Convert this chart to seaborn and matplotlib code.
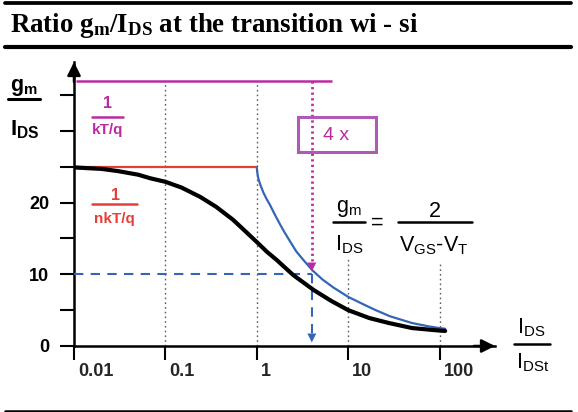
import matplotlib
matplotlib.use("Agg")
import matplotlib.pyplot as plt
import matplotlib.transforms as mtransforms
import seaborn as sns
import pandas as pd
from matplotlib.lines import Line2D
from matplotlib.patches import Rectangle
from matplotlib.ticker import NullLocator

# ---------------- data ----------------
# black: full-range gm/IDS curve (weak -> strong inversion)
full_x = [0.0102, 0.02, 0.03, 0.05, 0.068, 0.1, 0.15, 0.24, 0.36, 0.55, 0.75,
          1.0, 1.3, 1.65, 2.5, 4.2, 6.5, 10, 17, 28, 50, 100, 115]
full_y = [24.9, 24.7, 24.4, 23.9, 23.4, 22.9, 22.1, 20.8, 19.4, 17.6, 16.0,
          14.5, 13.1, 12.0, 9.9, 7.8, 6.3, 5.0, 3.9, 3.2, 2.5, 2.15, 2.1]
# blue: strong-inversion asymptote 2/(VGS-VT)
si_x = [1.0, 1.01, 1.03, 1.06, 1.1, 1.18, 1.28, 1.39, 1.58, 1.79, 2.0, 2.31,
        2.7, 3.23, 4.1, 5.2, 6.9, 10, 15, 20, 28.6, 50, 75, 100, 115]
si_y = [24.9, 24.3, 23.6, 23.0, 22.4, 21.4, 20.5, 19.7, 18.3, 17.0, 15.9, 14.6,
        13.2, 12.0, 10.5, 9.3, 8.15, 6.85, 5.75, 5.0, 4.15, 3.2, 2.75, 2.5, 2.4]
# horizontal limits
kt_level = 37.0            # 1/(kT/q)
kt_span = [0.0105, 6.6]
nkt_level = 25.0           # 1/(nkT/q)
nkt_span = [0.0101, 1.0]
# "4 x" construction
ratio_x = 4.0
ratio_level = 10.0
kt_arrow_tip = 10.4
ratio_arrow_tip = 0.5
# decade guide lines
guide_x = [0.1, 1, 10, 100]
guide_top = [36.7, 36.7, 12.3, 11.6]
# ticks
x_ticks = [0.01, 0.1, 1, 10, 100]
x_tick_labels = ["0.01", "0.1", "1", "10", "100"]
y_ticks = [0, 5, 10, 15, 20, 25, 30, 35]
y_tick_labels = ["0", "", "10", "", "20", "", "", ""]

# ---------------- style ----------------
sns.set_theme(style="ticks")
plt.rcParams["font.family"] = ["Liberation Sans", "DejaVu Sans"]
plt.rcParams["mathtext.default"] = "regular"

MAG = "#bb2aa2"
RED = "#e3403b"
BLUE = "#3565b6"
BOX = "#b05ab8"
GRID = "#5e5e5e"

W, H = 578, 412
fig = plt.figure(figsize=(W / 100, H / 100), dpi=100)
fig.patch.set_facecolor("white")


def fx(x):
    return x / W


def fy(y):
    return 1 - y / H


ax = fig.add_axes([fx(74), fy(346), (495 - 74) / W, (346 - 62) / H])
ax.set_xscale("log")
ax.set_xlim(0.01, 10 ** ((495 - 74) / 91.4 - 2))
ax.set_ylim(0, (346 - 62) / 7.17)
ax.patch.set_alpha(0)

# guides
ax.vlines(guide_x, 0, guide_top, colors=GRID, linestyles=(0, (1.2, 2.2)), lw=1.0, zorder=1)

# limits
ax.hlines(kt_level, kt_span[0], kt_span[1], color=MAG, lw=1.8, zorder=3)
ax.hlines(nkt_level, nkt_span[0], nkt_span[1], color=RED, lw=1.6, zorder=3)

# curves
df_full = pd.DataFrame({"x": full_x, "y": full_y})
df_si = pd.DataFrame({"x": si_x, "y": si_y})
sns.lineplot(data=df_si, x="x", y="y", ax=ax, color=BLUE, lw=1.6, estimator=None, zorder=4)
sns.lineplot(data=df_full, x="x", y="y", ax=ax, color="black", lw=3.0, estimator=None, zorder=5)

# blue dashed construction
ax.plot([0.01, ratio_x], [ratio_level, ratio_level], color=BLUE, lw=1.5,
        ls=(0, (4.5, 3.5)), zorder=3)
ax.plot([ratio_x, ratio_x], [ratio_level, ratio_arrow_tip + 1.2], color=BLUE, lw=1.5,
        ls=(0, (4.5, 3.5)), zorder=3)
ax.annotate("", xy=(ratio_x, ratio_arrow_tip), xytext=(ratio_x, ratio_arrow_tip + 1.5),
            arrowprops=dict(arrowstyle="-|>", color=BLUE, lw=0.01, mutation_scale=16,
                            shrinkA=0, shrinkB=0), zorder=6)

# magenta dotted construction
ax.plot([ratio_x, ratio_x], [kt_level, kt_arrow_tip + 1.0], color=MAG, lw=2.0,
        ls=(0, (0.8, 1.2)), zorder=6)
ax.annotate("", xy=(ratio_x, kt_arrow_tip), xytext=(ratio_x, kt_arrow_tip + 1.4),
            arrowprops=dict(arrowstyle="-|>", color=MAG, lw=0.01, mutation_scale=16,
                            shrinkA=0, shrinkB=0), zorder=7)

# "4 x" box
ax.add_patch(Rectangle((2.8, 27.1), 20.1 - 2.8, 31.9 - 27.1, fill=False, ec=BOX, lw=2.2,
                       zorder=6))
ax.text(5.3, 29.4, "4 x", color=MAG, fontsize=14, ha="left", va="center", zorder=7)

# axes
sns.despine(ax=ax)
for s in ("left", "bottom"):
    ax.spines[s].set_linewidth(1.8)
    ax.spines[s].set_color("black")
ax.set_xticks(x_ticks, labels=[""] * len(x_ticks))
ax.xaxis.set_minor_locator(NullLocator())
ax.set_yticks(y_ticks, labels=y_tick_labels, fontweight="bold", fontsize=13)
ax.tick_params(axis="both", which="major", length=10, width=1.5, color="black",
               direction="out", labelcolor="black")
ax.tick_params(axis="y", pad=8)
ax.set_xlabel("")
ax.set_ylabel("")

# x tick labels: left-aligned just right of each tick (as in the reference)
lab_trans = mtransforms.offset_copy(ax.get_xaxis_transform(), fig=fig, x=4, y=-17,
                                    units="dots")
for xv, lab in zip(x_ticks, x_tick_labels):
    ax.text(xv, 0, lab, transform=lab_trans, ha="left", va="top", fontsize=13,
            fontweight="bold", clip_on=False)

ax.annotate("", xy=(1, 0), xycoords="axes fraction", xytext=(0.95, 0),
            arrowprops=dict(arrowstyle="-|>", color="black", lw=1.8, mutation_scale=20,
                            shrinkA=0, shrinkB=0))
ax.annotate("", xy=(0, 1), xycoords="axes fraction", xytext=(0, 0.93),
            arrowprops=dict(arrowstyle="-|>", color="black", lw=1.8, mutation_scale=20,
                            shrinkA=0, shrinkB=0))


# ---------------- annotations ----------------
def bar(x0, x1, y, color="black", lw=2.0):
    fig.add_artist(Line2D([fx(x0), fx(x1)], [fy(y), fy(y)], color=color, lw=lw))


def txt(x, y, s, size, color="black", weight="normal", ha="center", va="baseline", **kw):
    fig.text(fx(x), fy(y), s, fontsize=size, color=color, fontweight=weight, ha=ha, va=va, **kw)


# title and rules
txt(10, 32, r"Ratio $g_m$/$I_{DS}$ at the transition wi - si", 19.4, weight="bold", ha="left",
    family=["Liberation Serif", "DejaVu Serif"])
bar(5, 571, 3, lw=2.7)
bar(5, 571, 47, lw=3.0)
bar(5, 571, 410.5, lw=1.8)

# y label
txt(24, 91, r"$g_m$", 15.5, weight="bold")
bar(8, 40, 99.3, lw=2.2)
txt(25, 135, r"$I_{DS}$", 16, weight="bold")

# 1/(kT/q)
txt(107.5, 108.3, "1", 11.5, color=MAG, weight="bold")
bar(91.7, 123.3, 116.7, color=MAG, lw=1.8)
txt(107.5, 134, "kT/q", 11, color=MAG, weight="bold")

# 1/(nkT/q)
txt(115, 200, "1", 11.5, color=RED, weight="bold")
bar(92, 137, 204, color=RED, lw=1.8)
txt(114, 222.5, "nkT/q", 11, color=RED, weight="bold")

# formula
txt(349, 212.3, r"$g_m$", 15.5)
bar(333.3, 365, 222.3, lw=1.8)
txt(349, 250, r"$I_{DS}$", 15.5)
txt(377, 229, "=", 15.5)
txt(435, 216.7, "2", 15.5)
bar(398.3, 471.7, 222.3, lw=1.8)
txt(434, 251, r"$V_{GS}$-$V_T$", 15.5)

# x label
txt(531, 333, r"$I_{DS}$", 15.5)
bar(514, 550, 344, lw=1.8)
txt(533, 368, r"$I_{DSt}$", 15.5)

fig.savefig("out.png", dpi=100, facecolor="white")
